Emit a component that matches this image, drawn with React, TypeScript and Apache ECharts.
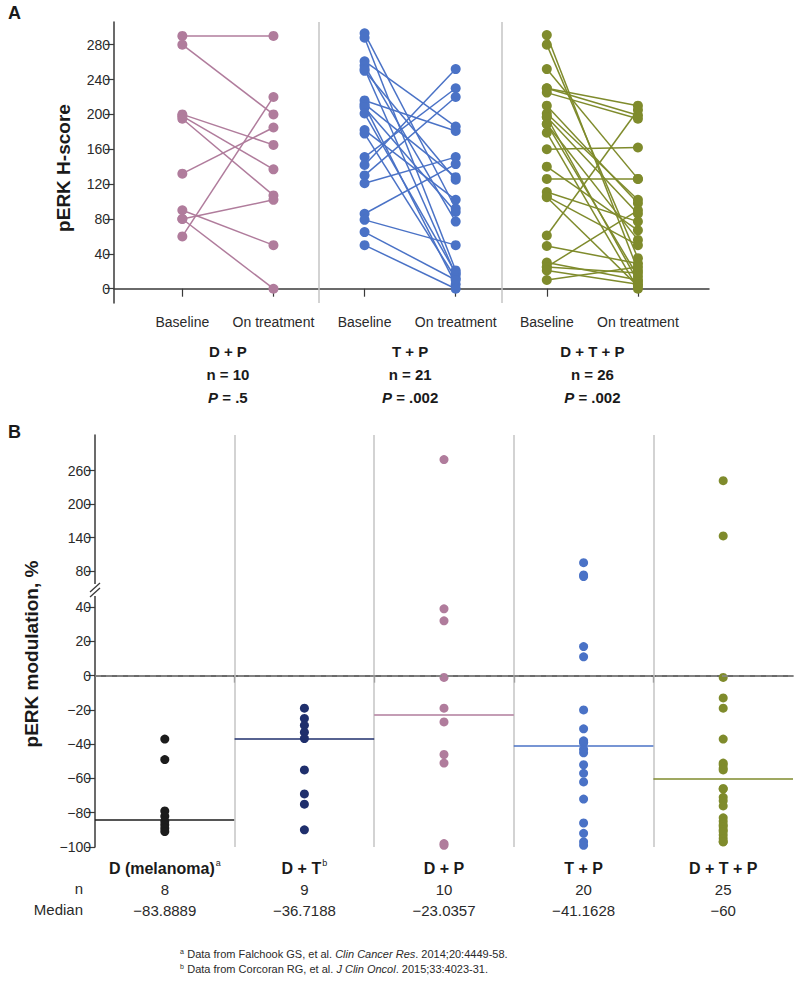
import React, { useEffect, useRef } from "react";
import * as echarts from "echarts";

const FONT = '"Liberation Sans Narrow", "Liberation Sans", Arial, sans-serif';
const BFONT = '"Liberation Sans", Arial, sans-serif';

// ---------- Panel A ----------
const aTickLabels = ["Baseline", "On treatment"];
const aGroups = ["D + P", "T + P", "D + T + P"];
const aN = [10, 21, 26];
const aP = [".5", ".002", ".002"];
const aYTicks = [0, 40, 80, 120, 160, 200, 240, 280];
const aColors = ["#b07c9c", "#4a72c6", "#7f8b2c"];

const dpBaseline = [290, 280, 200, 198, 195, 132, 90, 80, 80, 60];
const dpOnTreatment = [290, 200, 165, 137, 107, 185, 50, 102, 0, 220];

const tpBaseline = [293, 288, 261, 256, 252, 250, 216, 212, 210, 208, 201, 182, 178, 151, 142, 130, 121, 86, 79, 65, 50];
const tpOnTreatment = [92, 21, 186, 77, 16, 125, 181, 128, 5, 88, 18, 102, 12, 230, 252, 220, 151, 143, 50, 10, 0];

const dtpBaseline = [291, 280, 252, 230, 230, 225, 210, 201, 197, 197, 189, 189, 179, 160, 140, 126, 111, 106, 105, 61, 49, 30, 25, 25, 21, 10];
const dtpOnTreatment = [21, 35, 126, 199, 210, 195, 98, 102, 86, 8, 14, 56, 0, 162, 67, 126, 77, 50, 3, 205, 29, 10, 90, 18, 5, 25];

// ---------- Panel B ----------
const bGroups = ["D (melanoma)", "D + T", "D + P", "T + P", "D + T + P"];
const bSup = ["a", "b", "", "", ""];
const bN = [8, 9, 10, 20, 25];
const bMedian = [-83.8889, -36.7188, -23.0357, -41.1628, -60];
const bColors = ["#1c1c1c", "#1f2f6c", "#b07c9c", "#4a72c6", "#7f8b2c"];
const bLowTicks = [-100, -80, -60, -40, -20, 0, 20, 40];
const bHighTicks = [80, 140, 200, 260];
const bBreak = 46;

const bMelanoma = [-37, -49, -79, -82, -85, -87, -89, -91];
const bDT = [-19, -25, -29, -33, -36.7, -55, -69, -75, -90];
const bDP = [280, 39, 32, -1, -19, -27, -46, -51, -98, -99];
const bTP = [95, 73, 70, 17, 11, -20, -31, -38, -39, -39, -43, -45, -52, -57, -62, -72, -86, -92, -97, -99];
const bDTP = [242, 143, -1, -13, -19, -37, -51, -52, -54, -55, -66, -66, -71, -73, -76, -83, -85, -87, -88, -90, -91, -93, -95, -97, -97];

const footnotes = [
  { sup: "a", pre: "Data from Falchook GS, et al. ", journal: "Clin Cancer Res", post: ". 2014;20:4449-58." },
  { sup: "b", pre: "Data from Corcoran RG, et al. ", journal: "J Clin Oncol", post: ". 2015;33:4023-31." },
];

const minus = (v: number) => (v < 0 ? "\u2212" + Math.abs(v) : String(v));

export default function App() {
  const ref = useRef<HTMLDivElement>(null);
  useEffect(() => {
    document.body.style.margin = "0";
    if (!ref.current) return;
    const chart = echarts.init(ref.current, undefined, { renderer: "svg" });

    const aPairs = [
      [dpBaseline, dpOnTreatment],
      [tpBaseline, tpOnTreatment],
      [dtpBaseline, dtpOnTreatment],
    ];
    const bValues = [bMelanoma, bDT, bDP, bTP, bDTP];

    const sepLine = { color: "#c4c4c4", width: 1.5, type: "solid" };
    const series: any[] = [];

    aPairs.forEach(([base, on], gi) => {
      const x0 = gi * 2 + 1;
      const x1 = gi * 2 + 2;
      series.push({
        type: "lines",
        coordinateSystem: "cartesian2d",
        xAxisIndex: 0,
        yAxisIndex: 0,
        silent: true,
        z: 2,
        lineStyle: { color: aColors[gi], width: 1.5, opacity: 1, curveness: 0 },
        data: base.map((b, i) => ({ coords: [[x0, b], [x1, on[i]]] })),
      });
      series.push({
        type: "scatter",
        xAxisIndex: 0,
        yAxisIndex: 0,
        symbolSize: 10,
        z: 3,
        itemStyle: { color: aColors[gi], opacity: 1 },
        data: [...base.map((b) => [x0, b]), ...on.map((o) => [x1, o])],
        markLine:
          gi === 0
            ? {
                silent: true,
                symbol: "none",
                label: { show: false },
                lineStyle: sepLine,
                data: [{ xAxis: 2.5 }, { xAxis: 4.5 }],
              }
            : undefined,
      });
    });

    bValues.forEach((vals, gi) => {
      const x = gi + 0.5;
      series.push({
        type: "scatter",
        xAxisIndex: 2,
        yAxisIndex: 1,
        symbolSize: 9,
        z: 3,
        itemStyle: { color: bColors[gi], opacity: 1 },
        data: vals.filter((v) => v >= bBreak).map((v) => [x, v]),
        markLine:
          gi === 0
            ? {
                silent: true,
                symbol: "none",
                label: { show: false },
                lineStyle: sepLine,
                data: [{ xAxis: 1 }, { xAxis: 2 }, { xAxis: 3 }, { xAxis: 4 }],
              }
            : undefined,
      });
      series.push({
        type: "scatter",
        xAxisIndex: 3,
        yAxisIndex: 2,
        symbolSize: 9,
        z: 3,
        itemStyle: { color: bColors[gi], opacity: 1 },
        data: vals.filter((v) => v < bBreak).map((v) => [x, v]),
        markLine: {
          silent: true,
          symbol: "none",
          label: { show: false },
          data: [
            [
              { coord: [gi, bMedian[gi]], lineStyle: { color: bColors[gi], width: 1.5, type: "solid" } },
              { coord: [gi + 1, bMedian[gi]] },
            ],
            ...(gi === 0
              ? [
                  { xAxis: 1, lineStyle: sepLine },
                  { xAxis: 2, lineStyle: sepLine },
                  { xAxis: 3, lineStyle: sepLine },
                  { xAxis: 4, lineStyle: sepLine },
                  { yAxis: 0, lineStyle: { color: "#8a8a8a", width: 1.5, type: [6, 5] } },
                ]
              : []),
          ],
        },
      });
    });

    const axisLine = { show: true, lineStyle: { color: "#3a3a3a", width: 1.5 } };
    const tickStyle = { lineStyle: { color: "#3a3a3a", width: 1.2 } };
    const tickLabel = { color: "#2a2a2a", fontSize: 14, fontFamily: FONT };

    const option: any = {
      animation: false,
      backgroundColor: "#ffffff",
      grid: [
        { left: 114, top: 22, width: 595, height: 281 },
        { left: 95, top: 435, width: 698, height: 155 },
        { left: 95, top: 590, width: 698, height: 257 },
      ],
      xAxis: [
        {
          type: "value",
          gridIndex: 0,
          min: 0.25,
          max: 6.78,
          axisLine,
          splitLine: { show: false },
          axisTick: { show: true, length: 8, customValues: [1, 2, 3, 4, 5, 6], ...tickStyle },
          axisLabel: {
            ...tickLabel,
            margin: 12,
            customValues: [1, 2, 3, 4, 5, 6],
            formatter: (v: number) => aTickLabels[(Math.round(v) - 1) % 2],
          },
        },
        {
          type: "value",
          gridIndex: 0,
          min: 0.25,
          max: 6.78,
          position: "bottom",
          axisLine: { show: false },
          axisTick: { show: false },
          splitLine: { show: false },
          axisLabel: {
            margin: 37,
            customValues: [1.5, 3.5, 5.5],
            formatter: (v: number) => {
              const i = Math.round((v - 1.5) / 2);
              return `{b|${aGroups[i]}}\n{b|n = ${aN[i]}}\n{i|P}{b| = ${aP[i]}}`;
            },
            rich: {
              b: { fontSize: 15, fontWeight: "bold", fontFamily: FONT, color: "#1a1a1a", lineHeight: 23 },
              i: { fontSize: 15, fontWeight: "bold", fontStyle: "italic", fontFamily: FONT, color: "#1a1a1a", lineHeight: 23 },
            },
          },
        },
        {
          type: "value",
          gridIndex: 1,
          min: 0,
          max: 5,
          show: false,
          splitLine: { show: false },
        },
        {
          type: "value",
          gridIndex: 2,
          min: 0,
          max: 5,
          axisLine,
          splitLine: { show: false },
          axisTick: { show: true, length: 7, customValues: [1, 2, 3, 4], ...tickStyle },
          axisLabel: {
            margin: 11,
            customValues: [0.5, 1.5, 2.5, 3.5, 4.5],
            formatter: (v: number) => {
              const i = Math.round(v - 0.5);
              const sup = bSup[i] ? `{s|${bSup[i]}}` : "";
              return `{b|${bGroups[i]}}${sup}\n{n|${bN[i]}}\n{n|${minus(bMedian[i])}}`;
            },
            rich: {
              b: { fontSize: 16, fontWeight: "bold", fontFamily: FONT, color: "#1a1a1a", lineHeight: 21 },
              s: { fontSize: 9, fontFamily: FONT, color: "#1a1a1a", lineHeight: 21, verticalAlign: "top", padding: [0, 0, 6, 1] },
              n: { fontSize: 15, fontFamily: FONT, color: "#2a2a2a", lineHeight: 21 },
            },
          },
        },
      ],
      yAxis: [
        {
          type: "value",
          gridIndex: 0,
          min: -16.4,
          max: 306,
          axisLine,
          splitLine: { show: false },
          axisTick: { show: true, length: 9, customValues: aYTicks, ...tickStyle },
          axisLabel: { ...tickLabel, margin: 4, customValues: aYTicks },
        },
        {
          type: "value",
          gridIndex: 1,
          min: bBreak,
          max: 324,
          axisLine,
          splitLine: { show: false },
          axisTick: { show: true, length: 9, customValues: bHighTicks, ...tickStyle },
          axisLabel: { ...tickLabel, margin: 4, customValues: bHighTicks },
        },
        {
          type: "value",
          gridIndex: 2,
          min: -100,
          max: 50,
          axisLine,
          splitLine: { show: false },
          axisTick: { show: true, length: 9, customValues: bLowTicks, ...tickStyle },
          axisLabel: { ...tickLabel, margin: 4, customValues: bLowTicks, formatter: (v: number) => minus(v) },
        },
      ],
      graphic: [
        { type: "text", x: 8, y: 4, style: { text: "A", font: `bold 18px ${BFONT}`, fill: "#1a1a1a" } },
        { type: "text", x: 8, y: 423, style: { text: "B", font: `bold 18px ${BFONT}`, fill: "#1a1a1a" } },
        {
          type: "text",
          x: 63,
          y: 168,
          rotation: Math.PI / 2,
          style: {
            text: "pERK H-score",
            font: `bold 19px ${BFONT}`,
            fill: "#1a1a1a",
            align: "center",
            verticalAlign: "middle",
          },
        },
        {
          type: "text",
          x: 31,
          y: 654,
          rotation: Math.PI / 2,
          style: {
            text: "pERK modulation, %",
            font: `bold 19px ${BFONT}`,
            fill: "#1a1a1a",
            align: "center",
            verticalAlign: "middle",
          },
        },
        { type: "text", x: 83, y: 888, style: { text: "n", font: `15px ${FONT}`, fill: "#2a2a2a", align: "right", verticalAlign: "middle" } },
        { type: "text", x: 83, y: 909, style: { text: "Median", font: `15px ${FONT}`, fill: "#2a2a2a", align: "right", verticalAlign: "middle" } },
        { type: "rect", shape: { x: 92, y: 584, width: 8, height: 12 }, style: { fill: "#ffffff" }, z: 100 },
        { type: "line", shape: { x1: 90, y1: 592, x2: 100, y2: 583 }, style: { stroke: "#3a3a3a", lineWidth: 1.3 }, z: 101 },
        { type: "line", shape: { x1: 90, y1: 597, x2: 100, y2: 588 }, style: { stroke: "#3a3a3a", lineWidth: 1.3 }, z: 101 },
        ...footnotes.map((f, i) => ({
          type: "text",
          x: 180,
          y: 948 + i * 15,
          style: {
            text: `{s|${f.sup}} {t|${f.pre}}{i|${f.journal}}{t|${f.post}}`,
            rich: {
              s: { fontSize: 7, fontFamily: FONT, fill: "#2a2a2a", verticalAlign: "top", padding: [0, 0, 5, 0] },
              t: { fontSize: 11, fontFamily: FONT, fill: "#2a2a2a" },
              i: { fontSize: 11, fontFamily: FONT, fontStyle: "italic", fill: "#2a2a2a" },
            },
          },
        })),
      ],
      series,
    };
    chart.setOption(option);
    return () => chart.dispose();
  }, []);
  return <div ref={ref} style={{ width: 800, height: 986, position: "absolute", left: 0, top: 0 }} />;
}
